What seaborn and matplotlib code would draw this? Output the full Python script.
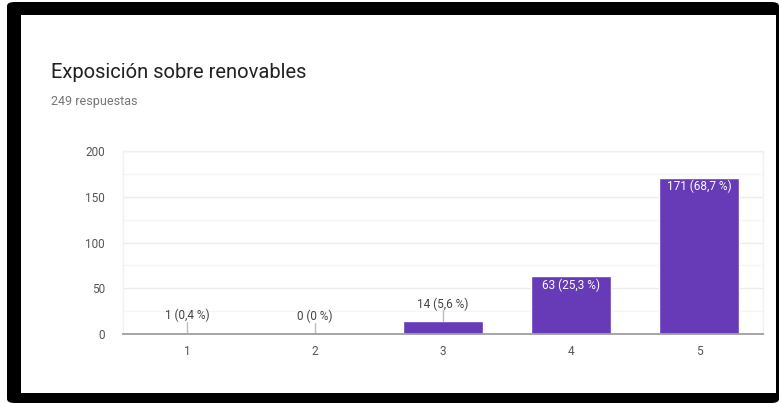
import matplotlib
matplotlib.use("Agg")
import matplotlib.pyplot as plt
from matplotlib.patches import FancyBboxPatch, Rectangle
import pandas as pd
import seaborn as sns

# datos
categorias = ["1", "2", "3", "4", "5"]
respuestas = [1, 0, 14, 63, 171]
porcentajes = ["0,4 %", "0 %", "5,6 %", "25,3 %", "68,7 %"]
titulo = "Exposición sobre renovables"
subtitulo = "249 respuestas"

df = pd.DataFrame({"opcion": categorias, "n": respuestas})

sns.set_style("white")
plt.rcParams["font.family"] = ["Roboto", "DejaVu Sans"]

W, H = 779, 403
fig = plt.figure(figsize=(W / 100, H / 100), dpi=100)
fig.patch.set_facecolor("white")

# marco negro de la captura
fig.add_artist(FancyBboxPatch((7 / W, 0), (W - 7) / W, (H - 2) / H,
                              boxstyle="round,pad=0,rounding_size=0.01",
                              transform=fig.transFigure, facecolor="black",
                              edgecolor="none", zorder=0))
fig.add_artist(Rectangle((21 / W, (H - 393) / H), (776 - 21) / W, (393 - 15) / H,
                         transform=fig.transFigure, facecolor="white",
                         edgecolor="none", zorder=0.5))

ax = fig.add_axes([123 / W, (H - 334) / H, (763 - 123) / W, (334 - 151) / H])
ax.set_zorder(2)
ax.set_facecolor("white")

morado = "#673ab7"
sns.barplot(data=df, x="opcion", y="n", color=morado, saturation=1,
            width=0.62, ax=ax, zorder=3)

ax.set_ylim(0, 200)
ax.set_xlim(-0.5, 4.5)
ax.set_yticks([0, 50, 100, 150, 200])
ax.set_yticks([25, 75, 125, 175], minor=True)
ax.grid(True, axis="y", which="major", color="#ececec", linewidth=1, zorder=0)
ax.grid(True, axis="y", which="minor", color="#f5f5f5", linewidth=1, zorder=0)
ax.set_xlabel("")
ax.set_ylabel("")
ax.tick_params(axis="both", which="both", length=0, labelsize=8.5,
               labelcolor="#555555")
ax.tick_params(axis="y", pad=13)
ax.tick_params(axis="x", pad=8)

for s in ["left", "right", "top"]:
    ax.spines[s].set_color("#f0f0f0")
    ax.spines[s].set_linewidth(1)
ax.spines["bottom"].set_color("#9e9e9e")
ax.spines["bottom"].set_linewidth(1.3)
ax.spines["bottom"].set_zorder(4)

# etiquetas de los valores
for i, (n, p) in enumerate(zip(respuestas, porcentajes)):
    texto = f"{n} ({p})"
    if n > 40:
        ax.text(i, n - 10, texto, ha="center", va="center", fontsize=8.5,
                color="white", zorder=5)
    else:
        ax.plot([i, i], [n, n + 12], color="#bdbdbd", linewidth=1, zorder=4)
        ax.text(i, n + 19, texto, ha="center", va="center", fontsize=8.5,
                color="#444444", zorder=5)

fig.text(51 / W, 1 - 72 / H, titulo, fontsize=14.5, color="#212121",
         ha="left", va="center")
fig.text(51 / W, 1 - 101 / H, subtitulo, fontsize=9, color="#757575",
         ha="left", va="center")

fig.savefig("out.png", dpi=100)
